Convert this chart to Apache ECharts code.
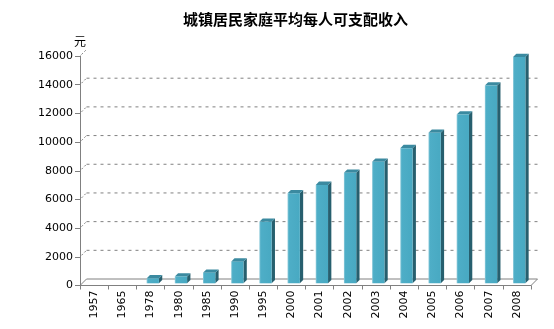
<!DOCTYPE html>
<html>
<head>
<meta charset="utf-8">
<script src="https://cdn.jsdelivr.net/npm/echarts@6/dist/echarts.min.js"></script>
<style>html,body{margin:0;padding:0;background:#fff;}#c{width:554px;height:329px;}</style>
</head>
<body>
<div id="c"></div>
<script>
var categories = ['1957','1965','1978','1980','1985','1990','1995','2000','2001','2002','2003','2004','2005','2006','2007','2008'];
var income = [null, null, 343, 478, 739, 1510, 4283, 6280, 6860, 7703, 8472, 9422, 10493, 11760, 13786, 15781];
var yTicks = [0, 2000, 4000, 6000, 8000, 10000, 12000, 14000, 16000];
var titleText = '城镇居民家庭平均每人可支配收入';
var unitName = '元';

var DX = 6.5, DY = -6.5;   // depth offset of back wall
var chart = echarts.init(document.getElementById('c'), null, {renderer: 'canvas'});

function barItem(params, api) {
  var v = api.value(1);
  if (v == null || isNaN(v)) return null;
  var idx = api.value(0);
  var top = api.coord([idx, v]);
  var base = api.coord([idx, 0]);
  var cx = top[0] + 2.3;
  var w = 12.3, d = 3.3, off = -2.2;
  var x0 = cx - w / 2, x1 = cx + w / 2;
  var yT = top[1] + off, yB = base[1] + off;
  return {
    type: 'group',
    children: [
      {type: 'polygon', shape: {points: [[x1, yT], [x1 + d, yT - d], [x1 + d, yB - d], [x1, yB]]},
       style: {fill: '#275f6e'}},
      {type: 'polygon', shape: {points: [[x0, yT], [x0 + d, yT - d], [x1 + d, yT - d], [x1, yT]]},
       style: {fill: '#3b8aa0'}},
      {type: 'rect', shape: {x: x0, y: yT, width: w, height: yB - yT},
       style: {fill: new echarts.graphic.LinearGradient(0, 0, 1, 0, [
         {offset: 0, color: '#8fcbdb'}, {offset: 0.12, color: '#4eaec7'}, {offset: 1, color: '#48a9c2'}])}}
    ]
  };
}

var lastIdx = categories.length - 1;
var topTick = yTicks[yTicks.length - 1];
function gridItem(params, api) {
  var v = api.value(0);
  var p = api.coord([0, v]);
  var half = api.size([1, 0])[0] / 2;
  var xl = p[0] - half;
  var pr = api.coord([lastIdx, v]);
  var xr = pr[0] + half;
  var solid = v === 0;
  var children = [{type: 'line', shape: {x1: xl + (solid ? 0 : 1.5), y1: p[1] - (solid ? 0 : 1.5), x2: xl + DX, y2: p[1] + DY},
    style: {stroke: '#808080', lineWidth: 1, lineDash: solid ? null : [2, 2]}}];
  if (v !== topTick) {
    children.push({type: 'line', shape: {x1: xl + DX, y1: p[1] + DY, x2: xr + DX, y2: p[1] + DY},
      style: {stroke: '#808080', lineWidth: 1, lineDash: solid ? null : [3, 4]}});
  }
  if (solid) {
    children.push({type: 'line', shape: {x1: xr, y1: pr[1], x2: xr + DX, y2: pr[1] + DY},
      style: {stroke: '#808080', lineWidth: 1}});
  }
  return {type: 'group', children: children};
}

var font = 'DejaVu Sans';
chart.setOption({
  animation: false,
  title: {
    text: titleText, left: 178, top: 7,
    textStyle: {fontSize: 15, fontWeight: 'bold', color: '#000', fontFamily: 'Noto Sans CJK SC'}
  },
  grid: {left: 80, right: 23, top: 56, bottom: 43.5},
  xAxis: {type: 'category', data: categories, boundaryGap: true,
     axisLine: {lineStyle: {color: '#808080', width: 1}},
     axisTick: {show: true, length: 4, lineStyle: {color: '#808080'}},
     axisLabel: {rotate: 90, margin: 5, fontSize: 11, color: '#000', fontFamily: font, interval: 0},
     z: 5},
  yAxis: {type: 'value', min: 0, max: 16000, interval: 2000,
     name: unitName, nameLocation: 'end', nameGap: 9,
     nameTextStyle: {fontSize: 12, color: '#000', fontFamily: 'Noto Sans CJK SC', align: 'center'},
     axisLine: {show: true, lineStyle: {color: '#808080'}},
     axisTick: {show: true, length: 5, lineStyle: {color: '#808080'}},
     axisLabel: {margin: 7, fontSize: 11, color: '#000', fontFamily: font,
       formatter: function (v) { return String(v); }},
     splitLine: {show: false}, z: 5},
  series: [
    {type: 'custom', renderItem: gridItem,
     data: yTicks.map(function (t) { return [t]; }), encode: {x: -1, y: 0}, z: 1, silent: true},
    {type: 'custom', renderItem: barItem,
     data: categories.map(function (c, i) { return [i, income[i]]; }), encode: {x: 0, y: 1}, z: 3}
  ]
});
</script>
</body>
</html>
